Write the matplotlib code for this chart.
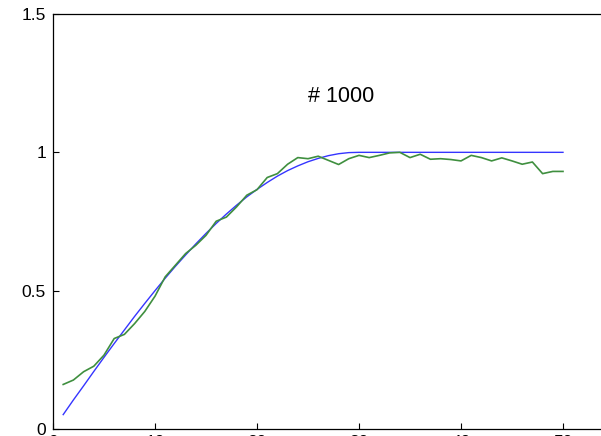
import matplotlib
matplotlib.use("Agg")
import matplotlib.pyplot as plt

plt.rcParams['font.family'] = ['Liberation Sans', 'DejaVu Sans']

# iteration index
steps = list(range(1, 51))

# target curve
target = [0.052, 0.105, 0.156, 0.208, 0.259, 0.309, 0.358, 0.407, 0.454, 0.500,
          0.545, 0.588, 0.629, 0.669, 0.707, 0.743, 0.777, 0.809, 0.839, 0.866,
          0.891, 0.914, 0.934, 0.951, 0.966, 0.978, 0.988, 0.995, 0.999, 1.000,
          1.0, 1.0, 1.0, 1.0, 1.0, 1.0, 1.0, 1.0, 1.0, 1.0,
          1.0, 1.0, 1.0, 1.0, 1.0, 1.0, 1.0, 1.0, 1.0, 1.0]

# network output after training
output = [0.161, 0.177, 0.207, 0.227, 0.267, 0.327, 0.342, 0.381, 0.425, 0.480,
          0.550, 0.592, 0.634, 0.664, 0.700, 0.751, 0.766, 0.803, 0.845, 0.865,
          0.909, 0.923, 0.957, 0.981, 0.977, 0.986, 0.971, 0.956, 0.977, 0.989,
          0.981, 0.989, 0.998, 1.000, 0.981, 0.993, 0.975, 0.977, 0.974, 0.969,
          0.989, 0.981, 0.969, 0.980, 0.969, 0.957, 0.965, 0.923, 0.931, 0.931]

x_ticks = [0, 10, 20, 30, 40, 50, 60]
y_ticks = [0, 0.5, 1, 1.5]
y_tick_labels = ['0', '0.5', '1', '1.5']

fig = plt.figure(figsize=(6.01, 4.36), dpi=100)
ax = fig.add_axes([53 / 601, 7 / 436, 612 / 601, 415 / 436])

ax.plot(steps, target, color='#3535ff', lw=1.0)
ax.plot(steps, output, color='#3f8f3f', lw=1.2)

ax.text(28.2, 1.203, '# 1000', ha='center', va='center', fontsize=15.5)

ax.set_xlim(0, 60)
ax.set_ylim(0, 1.5)
ax.set_xticks(x_ticks)
ax.set_yticks(y_ticks)
ax.set_yticklabels(y_tick_labels)
ax.tick_params(direction='in', length=4, width=0.8, labelsize=12.5, pad=4)
ax.tick_params(axis='y', pad=5)
for s in ax.spines.values():
    s.set_linewidth(0.9)

fig.savefig('out.png', dpi=100)
